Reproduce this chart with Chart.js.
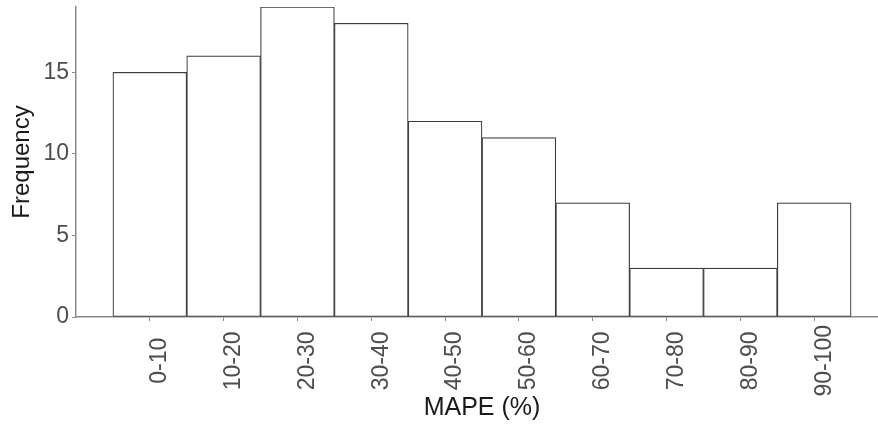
<!DOCTYPE html>
<html>
<head>
<meta charset="utf-8">
<script src="https://cdn.jsdelivr.net/npm/chart.js@4/dist/chart.umd.min.js"></script>
<style>
    html, body { margin: 0; background: #fff; overflow: hidden; width: 878px; height: 433px; }
    canvas { display: block; }
</style>
</head>
<body>
<!-- el panel original sigue un poco mas alla del borde derecho de la imagen -->
<canvas id="chartMape" width="888" height="433"></canvas>
<script>
const rangos = ['0-10', '10-20', '20-30', '30-40', '40-50', '50-60', '60-70', '70-80', '80-90', '90-100'];
const centros = [5, 15, 25, 35, 45, 55, 65, 75, 85, 95];
const frecuencias = [15, 16, 19, 18, 12, 11, 7, 3, 3, 7];
const ticksY = [0, 5, 10, 15];

const fuente = '"Liberation Sans", Arial, Helvetica, sans-serif';
const colorEje = '#8a8a8a';
const colorTexto = '#4d4d4d';

// etiquetas del eje x giradas y centradas (como ggplot)
const etiquetasX = {
    id: 'etiquetasX',
    afterDraw(chart) {
        const ctx = chart.ctx;
        const escala = chart.scales.x;
        ctx.save();
        ctx.font = `23px ${fuente}`;
        ctx.fillStyle = colorTexto;
        ctx.textAlign = 'center';
        ctx.textBaseline = 'middle';
        const ancho = Math.max(...rangos.map(r => ctx.measureText(r).width));
        const y = escala.top + 8 + ancho / 2;
        rangos.forEach((rango, i) => {
            ctx.save();
            ctx.translate(escala.getPixelForValue(centros[i]) + 10, y);
            ctx.rotate(-Math.PI / 2);
            ctx.fillText(rango, 0, 0);
            ctx.restore();
        });
        ctx.restore();
    }
};

const context = document.getElementById('chartMape').getContext('2d');

const chartMape = new Chart(context, {
    type: 'bar',
    data: {
        datasets: [
            {
                label: 'Frequency',
                data: centros.map((c, i) => ({ x: c, y: frecuencias[i] })),
                backgroundColor: '#ffffff',
                borderColor: '#3c3c3c',
                borderWidth: 1.2,
                borderSkipped: false,
                barPercentage: 1,
                categoryPercentage: 1
            }
        ]
    },
    options: {
        responsive: false,
        animation: false,
        devicePixelRatio: 1,
        layout: {
            padding: { top: 7, right: 0, left: 0, bottom: 0 }
        },
        plugins: {
            legend: { display: false },
            tooltip: { enabled: false }
        },
        scales: {
            x: {
                type: 'linear',
                offset: false,
                min: -5,
                max: 105,
                afterBuildTicks: (escala) => {
                    escala.ticks = centros.map(v => ({ value: v }));
                },
                afterFit: (escala) => {
                    escala.height = 116;
                    escala.paddingLeft = 0;
                    escala.paddingRight = 0;
                },
                ticks: { display: false },
                grid: {
                    offset: false,
                    drawOnChartArea: false,
                    tickLength: 4,
                    color: colorEje,
                    tickWidth: 1
                },
                border: { display: true, color: colorEje, width: 1.5 },
                title: {
                    display: true,
                    text: 'MAPE (%)',
                    color: '#1a1a1a',
                    font: { family: fuente, size: 25 },
                    padding: { top: 0, bottom: 10 }
                }
            },
            y: {
                min: 0,
                max: 19,
                afterBuildTicks: (escala) => {
                    escala.ticks = ticksY.map(v => ({ value: v }));
                },
                afterFit: (escala) => {
                    escala.width = 76;
                    escala.paddingTop = 0;
                    escala.paddingBottom = 0;
                },
                ticks: {
                    color: colorTexto,
                    font: { family: fuente, size: 23 },
                    padding: 3
                },
                grid: {
                    drawOnChartArea: false,
                    tickLength: 4,
                    color: colorEje,
                    tickWidth: 1
                },
                border: { display: true, color: colorEje, width: 1.5 },
                title: {
                    display: true,
                    text: 'Frequency',
                    color: '#1a1a1a',
                    font: { family: fuente, size: 24 },
                    padding: { top: 8, bottom: 0 }
                }
            }
        }
    },
    plugins: [etiquetasX]
});
</script>
</body>
</html>
